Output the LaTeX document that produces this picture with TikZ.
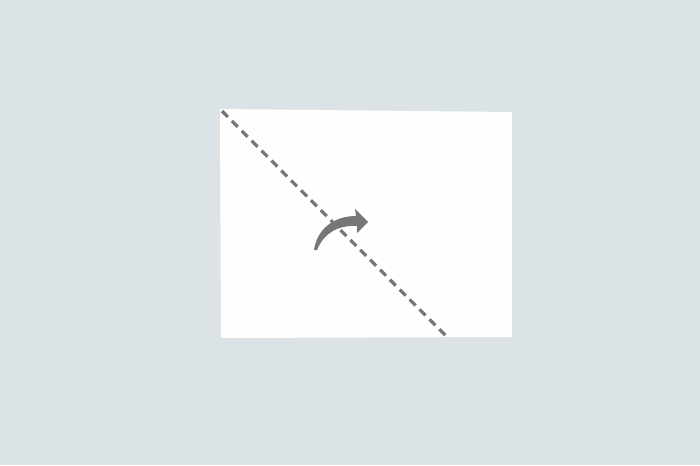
\documentclass[tikz,border=0pt]{standalone}
\definecolor{wall}{HTML}{DCE3E7}
\definecolor{sheet}{HTML}{FEFEFC}
\definecolor{crease}{HTML}{767676}
\tikzset{fold/.style={crease,line width=1.6pt,dash pattern=on 4.2pt off 2.8pt}}
\begin{document}
\begin{tikzpicture}[x=0.5pt,y=-0.5pt]
\fill [wall] (0,0) rectangle (700,465);
\useasboundingbox (0,0) rectangle (700,465);
% the sheet
\fill [sheet] (220,109) -- (512,112) -- (512,337) -- (221,338) -- cycle;
\coordinate (tl) at (222,111);
\coordinate (br) at (447,337);
\draw [fold] (tl) -- (br);
% the turn arrow
\fill [crease] (314,250) .. controls (317,229) and (334,216) .. (356,216) -- (355,209)
  -- (368,222) -- (357,233) -- (357,226) .. controls (338,225) and (324,233) .. (317,250) -- cycle;
\end{tikzpicture}
\end{document}
